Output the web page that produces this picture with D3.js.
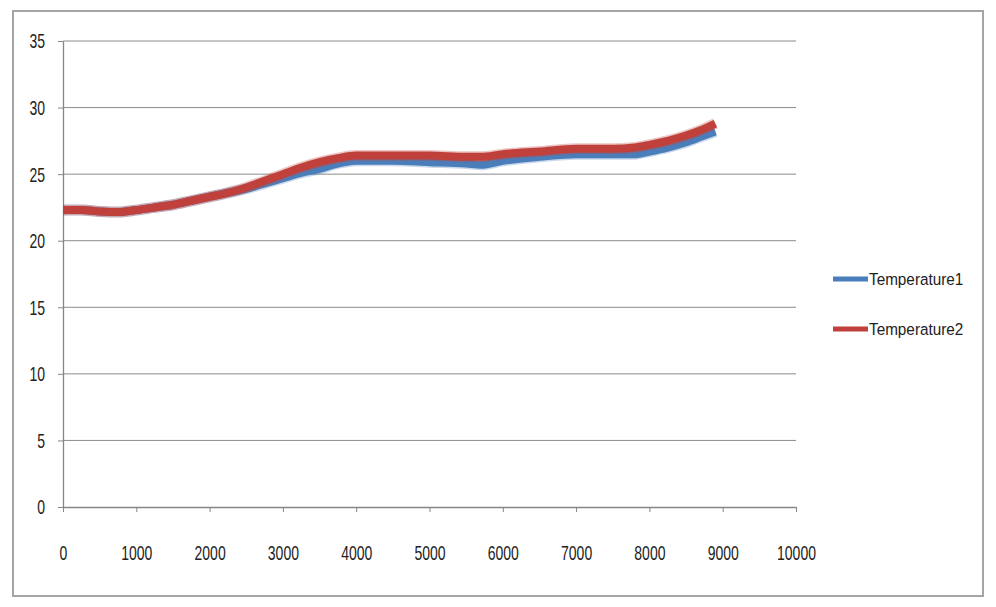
<!DOCTYPE html>
<html>
<head>
<meta charset="utf-8">
<script src="https://cdn.jsdelivr.net/npm/d3@7"></script>
<style>
  html, body { margin: 0; padding: 0; background: #fff; }
  svg { display: block; }
  text { font-family: "Liberation Sans", Arial, sans-serif; fill: #222; }
</style>
</head>
<body>
<svg id="chart" width="996" height="607"></svg>
<script>
// ---- data ----
const xValues = [0, 250, 500, 750, 1000, 1250, 1500, 1750, 2000, 2250, 2500, 2750, 3000, 3250, 3500, 3750, 4000, 4500, 5000, 5500, 5700, 6000, 6500, 7000, 7500, 7800, 8000, 8250, 8500, 8700, 8900];
const temperature1 = [22.3, 22.3, 22.2, 22.15, 22.3, 22.5, 22.7, 23.0, 23.3, 23.6, 23.9, 24.3, 24.7, 25.1, 25.4, 25.8, 26.0, 26.0, 25.9, 25.8, 25.7, 26.0, 26.3, 26.5, 26.5, 26.5, 26.7, 27.0, 27.4, 27.8, 28.2];
const temperature2 = [22.3, 22.3, 22.2, 22.15, 22.3, 22.5, 22.7, 23.0, 23.3, 23.6, 24.0, 24.5, 25.0, 25.5, 25.9, 26.2, 26.4, 26.4, 26.4, 26.3, 26.3, 26.5, 26.7, 26.9, 26.9, 27.0, 27.2, 27.5, 27.9, 28.3, 28.8];
const seriesNames = ["Temperature1", "Temperature2"];
const xTicks = [0, 1000, 2000, 3000, 4000, 5000, 6000, 7000, 8000, 9000, 10000];
const yTicks = [0, 5, 10, 15, 20, 25, 30, 35];

const colors = ["#4a7ebb", "#c0413b"];
const svg = d3.select("#chart");

// outer border
svg.append("rect").attr("x", 13).attr("y", 11).attr("width", 970).attr("height", 585)
  .attr("fill", "none").attr("stroke", "#a5a5a5").attr("stroke-width", 2);

const x = d3.scaleLinear().domain([0, 10000]).range([63, 796]);
const y = d3.scaleLinear().domain([0, 35]).range([507, 41]);

// gridlines
svg.append("g").selectAll("line").data(yTicks.filter(d => d > 0)).join("line")
  .attr("x1", x(0)).attr("x2", x(10000))
  .attr("y1", d => y(d)).attr("y2", d => y(d))
  .attr("stroke", "#8c8c8c").attr("stroke-width", 1);

// axes
const xAxis = svg.append("g").attr("transform", `translate(0,${y(0)})`)
  .call(d3.axisBottom(x).tickValues(xTicks).tickSize(5).tickSizeOuter(0).tickFormat(d3.format("d")));
const yAxis = svg.append("g").attr("transform", `translate(${x(0)},0)`)
  .call(d3.axisLeft(y).tickValues(yTicks).tickSize(5).tickSizeOuter(0).tickFormat(d3.format("d")));

[xAxis, yAxis].forEach(g => {
  g.select(".domain").attr("stroke", "#868686").attr("stroke-width", 1.3);
  g.selectAll(".tick line").attr("stroke", "#868686");
  g.selectAll("text").attr("font-size", 20).attr("fill", "#222")
    .attr("font-family", "'Liberation Sans', Arial, sans-serif");
});
xAxis.selectAll(".tick text").attr("y", 0).attr("dy", 0)
  .attr("transform", "translate(0,46) scale(0.7,1)").attr("text-anchor", "middle").attr("dominant-baseline", "central");
yAxis.selectAll(".tick text").attr("x", 0).attr("dy", 0)
  .attr("transform", "translate(-18,0) scale(0.7,1)").attr("text-anchor", "end").attr("dominant-baseline", "central");

// lines
const line = d3.line().x((d, i) => x(xValues[i])).y(d => y(d)).curve(d3.curveMonotoneX);
[temperature1, temperature2].forEach((s, k) => {
  svg.append("path").datum(s).attr("d", line).attr("fill", "none")
    .attr("stroke", colors[k]).attr("stroke-width", 11).attr("stroke-opacity", 0.3);
  svg.append("path").datum(s).attr("d", line).attr("fill", "none")
    .attr("stroke", colors[k]).attr("stroke-width", 8);
});

// legend
const legend = svg.append("g");
seriesNames.forEach((name, i) => {
  const ly = 279 + i * 50;
  legend.append("line").attr("x1", 833).attr("x2", 868).attr("y1", ly).attr("y2", ly)
    .attr("stroke", colors[i]).attr("stroke-width", 5);
  legend.append("text").attr("transform", `translate(869,${ly}) scale(0.9,1)`)
    .attr("dominant-baseline", "central")
    .attr("font-size", 17).text(name);
});
</script>
</body>
</html>
